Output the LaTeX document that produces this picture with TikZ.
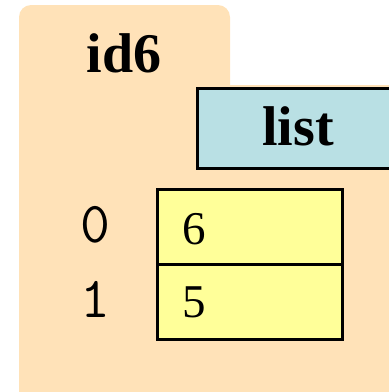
\documentclass[tikz,border=0pt]{standalone}
\usepackage{fontspec}
\setmainfont{Liberation Serif}
\usetikzlibrary{positioning}
\definecolor{folderpeach}{HTML}{FFE2B8}
\definecolor{typeblue}{HTML}{B9E0E4}
\definecolor{cellyellow}{HTML}{FFFF99}
\tikzstyle{typebox}=[draw=black,line width=1.5pt,fill=typeblue,minimum width=100pt,minimum height=40pt,inner sep=0,font=\fontsize{28}{30}\selectfont\bfseries]
\tikzstyle{cell}=[draw=black,line width=1.5pt,fill=cellyellow,minimum width=92.5pt,minimum height=37.5pt,inner sep=0]
\tikzstyle{val}=[inner sep=0,anchor=base west,font=\fontsize{23.5}{25}\selectfont]
\tikzstyle{idx}=[inner sep=0,anchor=base,font=\fontsize{29}{30}\ttfamily]
\tikzstyle{title}=[inner sep=0,anchor=base,font=\fontsize{28}{30}\selectfont\bfseries]

\begin{document}
\begin{tikzpicture}[x=0.5pt,y=-0.5pt]
\useasboundingbox (0,0) rectangle (389,392);
% folder
\fill[folderpeach,rounded corners=6pt] (19,120)--(19,5)--(230,5)--(230,120)--cycle;
\fill[folderpeach] (19,85) rectangle (400,392);
\node[title] (name) at (124,72) {id6};

% type tab
\node[typebox,anchor=north west] (type) at (196,87) {};
\node[title] (typename) at (298,145) {list};

% list cells
\foreach \i/\v in {0/6,1/5}{
	\node[cell,anchor=north west] (c\i) at (156,188+74.5*\i) {};
	\node[val] (v\i) at (182,244+73*\i) {\v};
	\node[idx] (i\i) at (95,242+75*\i) {\i};
}
\end{tikzpicture}
\end{document}
